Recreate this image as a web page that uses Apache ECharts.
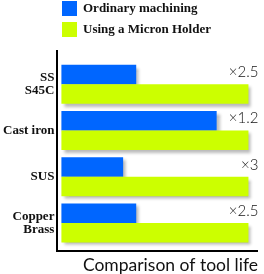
<!DOCTYPE html>
<html><head><meta charset="utf-8">
<script src="https://cdn.jsdelivr.net/npm/echarts@6/dist/echarts.min.js"></script>
<style>html,body{margin:0;padding:0;background:#fff}#c{width:264px;height:274px}</style>
</head><body><div id="c"></div>
<script>
var categories = ['SS\nS45C', 'Cast iron', 'SUS', 'Copper\nBrass'];
var seriesNames = ['Ordinary machining', 'Using a Micron Holder'];
var ordinary = [40, 83, 33, 40];
var micron = [100, 100, 100, 100];
var multipliers = ['×2.5', '×1.2', '×3', '×2.5'];
var axisTitle = 'Comparison of tool life';

var chart = echarts.init(document.getElementById('c'), null, {renderer: 'canvas'});
var shadow = {shadowColor: 'rgba(0,0,0,0.28)', shadowBlur: 3, shadowOffsetX: 3, shadowOffsetY: 3};
chart.setOption({
  animation: false,
  title: {
    text: axisTitle, right: 6, top: 256, padding: 0,
    textStyle: {fontFamily: 'Lato', fontSize: 17.5, fontWeight: 'normal', color: '#111'}
  },
  legend: {
    orient: 'vertical', left: 62, top: 1, padding: 0, itemWidth: 15, itemHeight: 15, itemGap: 6,
    icon: 'rect',
    textStyle: {fontFamily: 'Liberation Serif', fontWeight: 'bold', fontSize: 13, color: '#111', padding: [0, 0, 0, 1]},
    data: seriesNames
  },
  grid: {left: 58, right: 6.2, top: 61, bottom: 28},
  xAxis: {
    type: 'value', min: 0, max: 105, show: false
  },
  yAxis: {
    type: 'category', inverse: true,
    data: categories.map(function (c) {
      return c.indexOf('\n') >= 0 ? {value: c, textStyle: {padding: [10, 0, 0, 0]}} : c;
    }),
    axisLine: {show: false}, axisTick: {show: false},
    axisLabel: {margin: 7, fontFamily: 'Liberation Serif', fontWeight: 'bold', fontSize: 13, color: '#111', lineHeight: 13, align: 'right'}
  },
  series: [
    {name: seriesNames[0], type: 'bar', data: ordinary, barWidth: 19.5, barGap: '0%', barCategoryGap: '0%',
     itemStyle: Object.assign({color: '#0066FF'}, shadow)},
    {name: seriesNames[1], type: 'bar', data: micron, barWidth: 19.5,
     itemStyle: Object.assign({color: '#CCFF00'}, shadow),
     label: {show: true, position: 'insideRight', distance: 5, offset: [15, -21.5],
       fontFamily: 'Lato', fontSize: 15, fontWeight: 300, color: '#111',
       formatter: function (p) { return multipliers[p.dataIndex]; }}}
  ],
  graphic: [
    {type: 'line', shape: {x1: 57, y1: 50, x2: 57, y2: 252}, style: {stroke: '#000', lineWidth: 2}},
    {type: 'line', shape: {x1: 56, y1: 251, x2: 258, y2: 251}, style: {stroke: '#000', lineWidth: 2}}
  ]
});
</script></body></html>
